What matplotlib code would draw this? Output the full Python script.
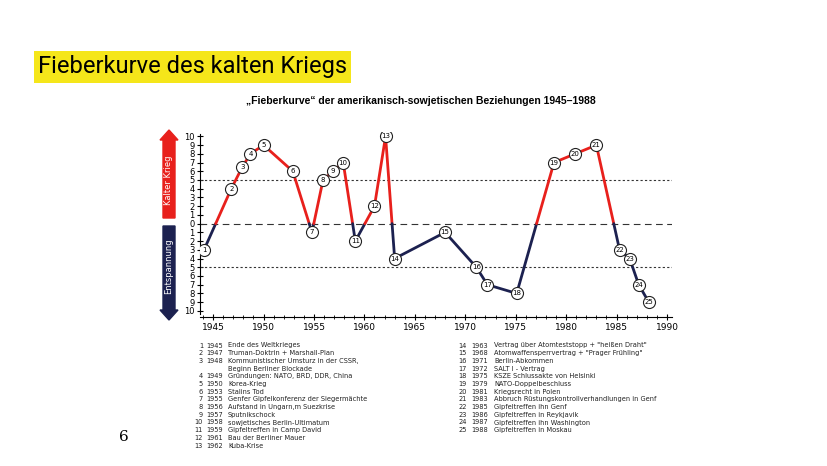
import matplotlib
matplotlib.use("Agg")
import matplotlib.pyplot as plt
from matplotlib.patches import FancyArrow
import numpy as np

W, H = 828, 466
numbers = list(range(1, 26))
x_pos = [1944.1, 1946.8, 1947.9, 1948.7, 1950.0, 1952.9, 1954.8, 1955.9, 1956.9, 1957.9,
         1959.1, 1961.0, 1962.1, 1963.0, 1968.0, 1971.1, 1972.2, 1975.1, 1978.8, 1980.9,
         1983.0, 1985.3, 1986.3, 1987.2, 1988.2]
values = [-3, 4, 6.5, 8, 9, 6, -1, 5, 6, 7, -2, 2, 10, -4, -1, -5, -7, -8, 7, 8, 9, -3, -4, -7, -9]
legend_left = [("1", "1945", "Ende des Weltkrieges"), ("2", "1947", "Truman-Doktrin + Marshall-Plan"),
               ("3", "1948", "Kommunistischer Umsturz in der CSSR,"), ("", "", "Beginn Berliner Blockade"),
               ("4", "1949", "Gründungen: NATO, BRD, DDR, China"), ("5", "1950", "Korea-Krieg"),
               ("6", "1953", "Stalins Tod"), ("7", "1955", "Genfer Gipfelkonferenz der Siegermächte"),
               ("8", "1956", "Aufstand in Ungarn,m Suezkrise"), ("9", "1957", "Sputnikschock"),
               ("10", "1958", "sowjetisches Berlin-Ultimatum"), ("11", "1959", "Gipfeltreffen in Camp David"),
               ("12", "1961", "Bau der Berliner Mauer"), ("13", "1962", "Kuba-Krise")]
legend_right = [("14", "1963", "Vertrag über Atomteststopp + \"heißen Draht\""),
                ("15", "1968", "Atomwaffensperrvertrag + \"Prager Frühling\""),
                ("16", "1971", "Berlin-Abkommen"), ("17", "1972", "SALT I - Vertrag"),
                ("18", "1975", "KSZE Schlussakte von Helsinki"), ("19", "1979", "NATO-Doppelbeschluss"),
                ("20", "1981", "Kriegsrecht in Polen"), ("21", "1983", "Abbruch Rüstungskontrollverhandlungen in Genf"),
                ("22", "1985", "Gipfeltreffen ihn Genf"), ("23", "1986", "Gipfeltreffen in Reykjavik"),
                ("24", "1987", "Gipfeltreffen ihn Washington"), ("25", "1988", "Gipfeltreffen in Moskau")]

RED = "#e8201c"
NAVY = "#1c2150"

fig = plt.figure(figsize=(W/100, H/100), dpi=100)
fig.patch.set_facecolor("white")

def fx(x): return x / W
def fy(y): return 1 - y / H

# title
fig.text(fx(38), fy(67), "Fieberkurve des kalten Kriegs", fontsize=17, family="Roboto",
         va="center", ha="left", color="black",
         bbox=dict(facecolor="#f5e61a", edgecolor="none", pad=3))
fig.text(fx(421), fy(101), "„Fieberkurve“ der amerikanisch-sowjetischen Beziehungen 1945–1988",
         fontsize=7.5, weight="bold", ha="center", va="center", family="Liberation Sans")
fig.text(fx(124), fy(437), "6", fontsize=11, ha="center", va="center", family="DejaVu Serif")

# axes
ax_l, ax_r, ax_t, ax_b = 200, 672, 132, 317
ax = fig.add_axes([fx(ax_l), fy(ax_b), (ax_r - ax_l)/W, (ax_b - ax_t)/H])
ax.set_xlim(1943.7, 1990.5)
ax.set_ylim(-10.7, 10.5)
for s in ["top", "right"]:
    ax.spines[s].set_visible(False)
ax.spines["left"].set_bounds(-10.3, 10.3)
ax.set_yticks(range(-10, 11))
ax.set_yticklabels([str(abs(v)) for v in range(-10, 11)], fontsize=6)
ax.set_xticks(range(1945, 1991, 5))
ax.set_xticklabels([str(v) for v in range(1945, 1991, 5)], fontsize=6.5)
ax.set_xticks(range(1944, 1991), minor=True)
ax.tick_params(axis="both", direction="inout", length=4, width=0.8, pad=2)
ax.tick_params(axis="x", which="minor", direction="inout", length=3)
ax.axhline(5, color="#333", lw=0.8, ls=(0, (2, 2)))
ax.axhline(-5, color="#333", lw=0.8, ls=(0, (2, 2)))
ax.axhline(0, color="#333", lw=0.8, ls=(0, (6, 4)))

for i in range(len(values) - 1):
    x0, x1, y0, y1 = x_pos[i], x_pos[i+1], values[i], values[i+1]
    if y0 * y1 < 0:
        xc = x0 + (x1 - x0) * (-y0) / (y1 - y0)
        ax.plot([x0, xc], [y0, 0], color=RED if y0 > 0 else NAVY, lw=2, solid_capstyle="round", zorder=2)
        ax.plot([xc, x1], [0, y1], color=RED if y1 > 0 else NAVY, lw=2, solid_capstyle="round", zorder=2)
    else:
        c = RED if (y0 + y1) > 0 else NAVY
        ax.plot([x0, x1], [y0, y1], color=c, lw=2, solid_capstyle="round", zorder=2)
ax.scatter(x_pos, values, s=75, facecolor="white", edgecolor="#222", lw=0.8, zorder=3)
for n, x, y in zip(numbers, x_pos, values):
    ax.text(x, y, str(n), fontsize=5, ha="center", va="center", zorder=4)

# side arrows
aa = fig.add_axes([0, 0, 1, 1], facecolor="none")
aa.set_xlim(0, W); aa.set_ylim(H, 0); aa.axis("off")
aa.add_patch(FancyArrow(169, 218, 0, -88, width=12, head_width=18, head_length=10,
                        length_includes_head=True, color=RED))
aa.add_patch(FancyArrow(169, 226, 0, 94, width=12, head_width=18, head_length=10,
                        length_includes_head=True, color=NAVY))
aa.text(169, 180, "Kalter Krieg", rotation=90, color="white", fontsize=6, ha="center", va="center")
aa.text(169, 266, "Entspannung", rotation=90, color="white", fontsize=6, ha="center", va="center")

# legend
lh = 7.7
fs = 4.8
for i, (n, yr, t) in enumerate(legend_left):
    y = 345.5 + i * lh
    aa.text(203, y, n, fontsize=fs, ha="right", va="center", color="#222")
    aa.text(206, y, yr, fontsize=fs, ha="left", va="center", color="#222")
    aa.text(228, y, t, fontsize=fs, ha="left", va="center", color="#222")
for i, (n, yr, t) in enumerate(legend_right):
    y = 345.5 + i * lh
    aa.text(467, y, n, fontsize=fs, ha="right", va="center", color="#222")
    aa.text(471, y, yr, fontsize=fs, ha="left", va="center", color="#222")
    aa.text(494, y, t, fontsize=fs, ha="left", va="center", color="#222")

fig.savefig("out.png", dpi=100)
